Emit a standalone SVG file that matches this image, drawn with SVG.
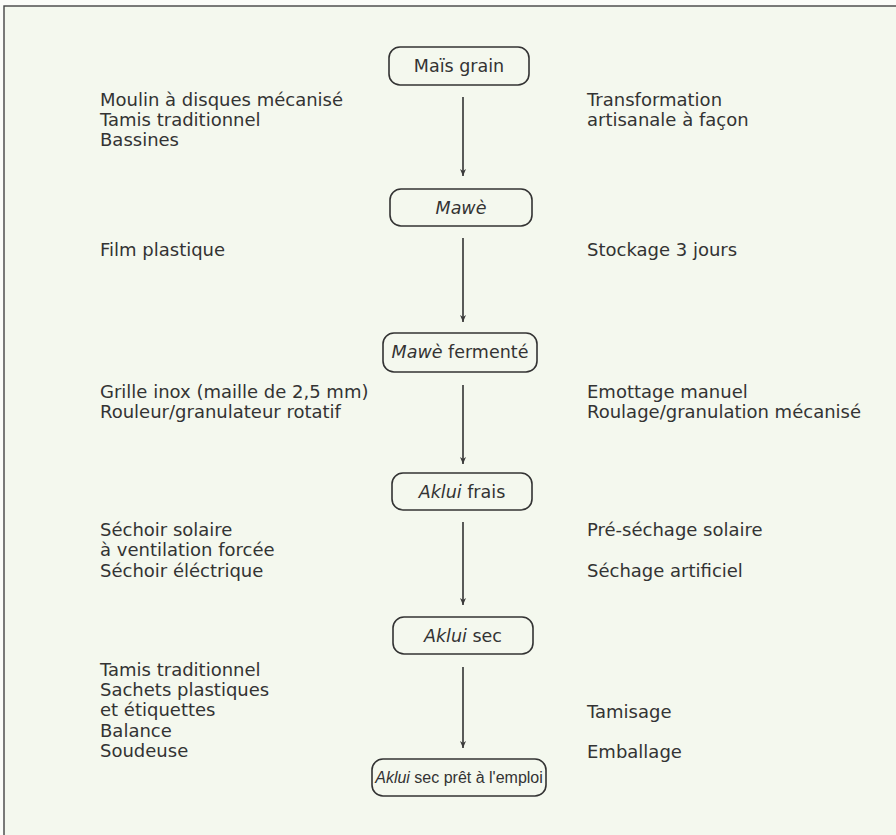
<svg xmlns="http://www.w3.org/2000/svg" width="896" height="835" viewBox="0 0 896 835">
<defs>
<marker id="ah" markerWidth="8" markerHeight="8" refX="7" refY="4" orient="auto" markerUnits="userSpaceOnUse" viewBox="0 0 8 8">
<path d="M0,1 L7,4 L0,7 L2,4 Z" fill="#3a3a3a"/>
</marker>
</defs>
<style>
text{font-family:"DejaVu Sans","Liberation Sans",sans-serif;font-size:18px;fill:#333}
.n text{text-anchor:middle;font-size:17.5px}
.n text.narrow{font-family:"Liberation Sans",sans-serif;font-size:16px}
.n rect{fill:none;stroke:#333;stroke-width:1.6}
.c line{stroke:#333;stroke-width:1.6;marker-end:url(#ah)}
.i{font-style:italic}
</style>
<rect x="0" y="0" width="896" height="835" fill="#fbfcf8"/>
<rect x="4" y="6" width="900" height="840" fill="#f4f8ee" stroke="#444" stroke-width="1.4"/>
<g id="n1" class="n"><rect x="389" y="47" width="140" height="38" rx="11"/><text x="459" y="72">Maïs grain</text></g>
<g id="n2" class="n"><rect x="390" y="189" width="142" height="37" rx="11"/><text x="461" y="214" class="i">Mawè</text></g>
<g id="n3" class="n"><rect x="383" y="333" width="154" height="39" rx="11"/><text x="460" y="358"><tspan class="i">Mawè</tspan> fermenté</text></g>
<g id="n4" class="n"><rect x="392" y="473" width="140" height="37" rx="11"/><text x="462" y="498"><tspan class="i">Aklui</tspan> frais</text></g>
<g id="n5" class="n"><rect x="393" y="617" width="140" height="37" rx="11"/><text x="463" y="642"><tspan class="i">Aklui</tspan> sec</text></g>
<g id="n6" class="n"><rect x="372" y="759" width="174" height="37" rx="11"/><text x="459" y="783" class="narrow"><tspan class="i">Aklui</tspan> sec prêt à l'emploi</text></g>
<g id="connectors" class="c">
<line x1="463" y1="97" x2="463" y2="176"/>
<line x1="463" y1="238" x2="463" y2="322"/>
<line x1="463" y1="385" x2="463" y2="464"/>
<line x1="463" y1="522" x2="463" y2="605"/>
<line x1="463" y1="667" x2="463" y2="748"/>
</g>
<g id="labels">
<text x="100" y="106">Moulin à disques mécanisé</text>
<text x="100" y="126">Tamis traditionnel</text>
<text x="100" y="146">Bassines</text>
<text x="587" y="106">Transformation</text>
<text x="587" y="126">artisanale à façon</text>
<text x="100" y="256">Film plastique</text>
<text x="587" y="256">Stockage 3 jours</text>
<text x="100" y="398">Grille inox (maille de 2,5 mm)</text>
<text x="100" y="418">Rouleur/granulateur rotatif</text>
<text x="587" y="398">Emottage manuel</text>
<text x="587" y="418">Roulage/granulation mécanisé</text>
<text x="100" y="536">Séchoir solaire</text>
<text x="100" y="556">à ventilation forcée</text>
<text x="100" y="577">Séchoir éléctrique</text>
<text x="587" y="536">Pré-séchage solaire</text>
<text x="587" y="577">Séchage artificiel</text>
<text x="100" y="676">Tamis traditionnel</text>
<text x="100" y="696">Sachets plastiques</text>
<text x="100" y="716">et étiquettes</text>
<text x="100" y="737">Balance</text>
<text x="100" y="757">Soudeuse</text>
<text x="587" y="718">Tamisage</text>
<text x="587" y="758">Emballage</text>
</g>
</svg>
